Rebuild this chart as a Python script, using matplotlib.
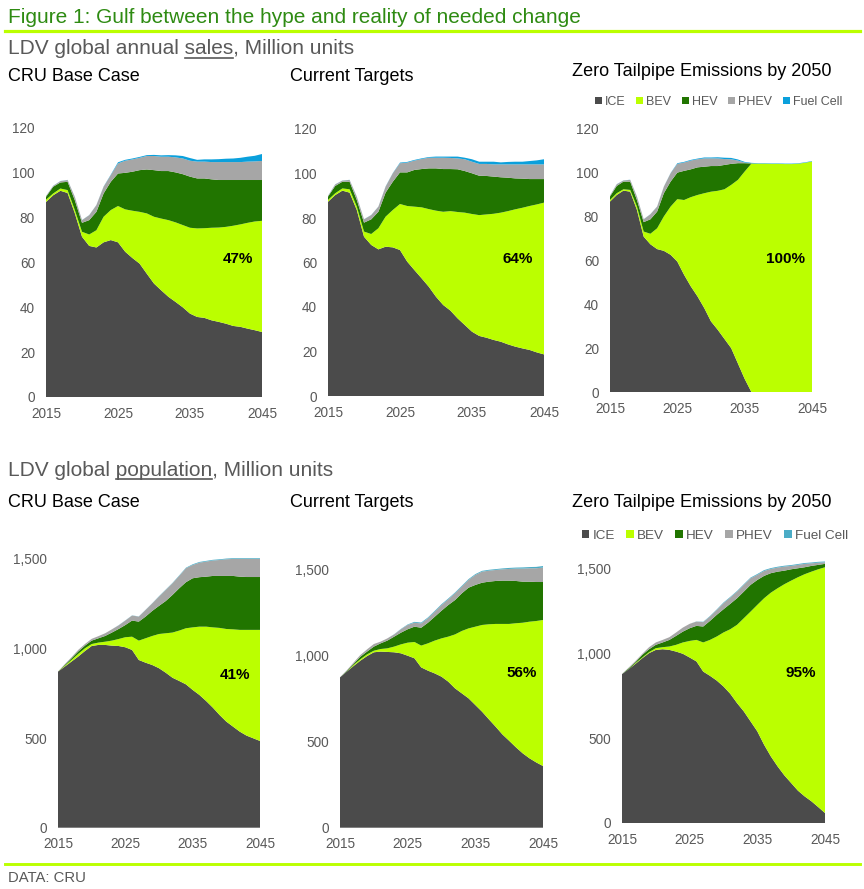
import matplotlib
matplotlib.use("Agg")
import matplotlib.pyplot as plt
from matplotlib.lines import Line2D
from matplotlib.patches import Patch
from matplotlib.ticker import FuncFormatter

plt.rcParams['font.family'] = ['Liberation Sans', 'DejaVu Sans']

W, H = 864, 889
years = list(range(2015, 2046))
series_names = ["ICE", "BEV", "HEV", "PHEV", "Fuel Cell"]

# ---- Annual sales, million units ----
sb_ice = [87,90,92,91,82,71.5,67.4,66.7,69,70,69,64.8,62,59.5,55,50.6,47.6,44.7,42.4,40,37.2,35.7,35.3,34.2,33.5,32.7,31.7,31.3,30.5,29.8,29]
sb_bev = [1,0.8,1,1.3,1.4,2.2,5.1,7.7,11.4,13.4,16.2,18.9,21.1,23.1,26.9,29.8,32,34.2,35.5,36.7,38.3,39.5,40,41.3,42.1,43.2,44.7,45.7,47.2,48.5,49.6]
sb_hev = [1.3,3,2.7,3.7,4.4,4,6.4,8.2,10.4,12.6,14.5,16.3,17.4,18.6,19.6,20.8,21.2,21.9,22.3,22.7,22.8,22.3,22.2,21.6,21.2,20.9,20.4,19.8,19.1,18.5,18.2]
sb_phev = [0.3,0.4,0.6,0.8,1.5,1.2,2.2,3,3,3,4.5,5.4,5.5,5.5,6,6.3,6.4,6.4,6.7,7,7.1,7.5,7.5,7.7,8,8,8,8,8.2,8.3,8.5]
sb_fc = [0.05,0.05,0.05,0.05,0.05,0.05,0.05,0.05,0.1,0.2,0.5,0.4,0.4,0.4,0.4,0.5,0.6,0.7,0.9,1.1,1.2,0.8,1,1.2,1.3,1.5,1.6,1.9,2.2,2.5,3.1]

sc_ice = [87.3,90.3,92.3,91.4,83.6,71.6,67.9,65.9,67.1,66.8,65.6,60.4,56.6,52.9,49.1,44.6,40.9,38.4,34.9,31.9,28.9,27,26.2,25.2,24.4,23.2,22.2,21.4,20.7,19.6,18.7]
sc_bev = [0.8,0.8,1.0,1.5,1.5,2.3,4.9,9.5,13.5,16.8,20.7,25,28.5,31.9,34.9,38.7,41.9,44.7,47.8,50.5,52.9,54.3,55.4,56.7,58,59.9,61.7,63.2,64.7,66.5,68.2]
sc_hev = [1.5,3.3,3.0,3.4,3.0,4.0,6.6,7.4,10.8,12.7,14.2,15.1,16.5,17.2,18.3,19,19.2,18.9,19.2,18.7,18.3,17.7,17.3,16.7,15.9,15,13.9,13.1,12.1,11.4,10.6]
sc_phev = [0.3,0.7,0.5,0.8,1.5,1.5,1.9,2.3,2.7,3.8,4.1,4.4,4.2,4.5,4.8,4.8,5.1,5,4.9,5.3,5.2,5.3,5.4,5.5,5.8,6,6.3,6.4,6.6,6.6,6.6]
sc_fc = [0.05,0.05,0.05,0.05,0.05,0.05,0.05,0.05,0.1,0.1,0.3,0.3,0.3,0.3,0.3,0.5,0.5,0.6,0.8,0.7,1.1,1,1,1.2,0.9,1.1,1.2,1.2,1.5,1.8,2.3]

sz_ice = [86.9,89.9,91.9,91.4,83.1,70.9,67.4,65.2,64.4,62.6,59.5,53.5,48.2,43.6,38.3,32.2,28.4,24.2,20,13,6,0,0,0,0,0,0,0,0,0,0]
sz_bev = [0.7,0.8,0.6,0.8,1.5,2.3,4.8,9.5,15.7,22,28.5,34.1,40.7,46.3,52.4,59.2,63.4,68.3,74.5,83.8,94.6,104.2,104.2,104.2,104.1,104.1,104,104,104.2,104.6,105.2]
sz_hev = [1.6,3.3,3.5,3.8,3,4.3,6.6,7.6,10.6,11.4,12.1,13.3,12.7,12.6,12.1,11.7,11.3,11.1,9.6,7.6,3.8,0.1,0,0,0,0,0,0,0,0,0]
sz_phev = [0.4,0.8,0.5,0.8,1.6,1.3,2.3,2.3,3,3.8,4,3.8,4,3.7,3.8,3.5,3.5,2.7,2.1,1.2,0.3,0.05,0,0,0,0,0,0,0,0,0]
sz_fc = [0.05,0.05,0.05,0.05,0.05,0.05,0.05,0.05,0.05,0.1,0.3,0.3,0.3,0.3,0.4,0.4,0.5,0.6,0.6,0.5,0.3,0.2,0.2,0.2,0.2,0.2,0.2,0.2,0.2,0.2,0.2]

# ---- Vehicle population, million units ----
pb_ice = [871,899,927,955,986,1014,1020,1020,1016,1014,1007,992,936,921,908,890,865,837,819,800,769,741,707,670,629,592,564,536,514,499,484]
pb_bev = [0,4,9,15,15,11,13,18,28,39,56,74,108,136,162,191,220,252,281,313,349,381,415,448,486,517,543,568,590,605,620]
pb_hev = [0,5,9,13,15,19,24,32,45,56,68,90,106,121,140,157,180,210,236,257,274,276,279,287,290,296,298,297,295,295,295]
pb_phev = [0,4,6,9,9,10,12,15,18,20,25,28,28,37,42,52,62,65,69,78,74,81,84,86,89,93,95,99,101,101,101]
pb_fc = [0,0,0,0,0,0,0,0,0,1,1,1,1,1,1,2,2,2,3,3,4,4,4,4,4,4,4,4,4,4,4]

pc_ice = [875,908,941,972,999,1021,1025,1023,1021,1015,1001,986,933,914,898,879,850,811,782,753,714,675,631,588,543,506,468,433,404,380,359]
pc_bev = [0,0,6,8,10,9,15,21,33,52,76,95,127,159,191,223,262,314,363,407,456,505,553,598,643,680,722,760,795,823,850]
pc_hev = [0,4,6,15,16,24,33,45,58,68,78,89,104,120,139,161,184,200,219,237,243,246,248,250,252,252,246,239,233,227,221]
pc_phev = [0,4,8,10,13,15,10,13,13,20,25,23,25,26,29,33,33,39,39,45,58,64,64,64,66,68,72,76,78,80,84]
pc_fc = [0,0,0,0,0,0,0,0,1,2,3,5,5,5,5,5,5,5,5,5,5,5,5,5,5,6,6,7,7,8,9]

pz_ice = [879,908,940,973,1003,1022,1026,1022,1012,999,977,954,894,869,841,806,763,708,659,600,541,462,393,334,281,236,191,157,128,94,59]
pz_bev = [0,0,4,4,6,10,12,20,40,67,98,127,172,212,260,319,381,462,550,648,747,865,967,1052,1129,1195,1260,1312,1356,1404,1451]
pz_hev = [0,6,6,16,17,20,28,39,53,64,75,83,94,112,128,137,150,157,157,158,147,132,115,98,80,67,53,41,34,26,20]
pz_phev = [0,4,7,6,12,14,15,16,20,24,26,25,26,26,29,36,37,39,40,39,30,29,25,24,24,20,20,20,15,13,9]
pz_fc = [0,0,0,0,0,0,0,0,0,0,0,1,2,3,3,4,4,4,4,4,5,5,5,5,5,5,5,5,5,5,5]

panel_titles = ["CRU Base Case", "Current Targets", "Zero Tailpipe Emissions by 2050"]
sales_labels = ["47%", "64%", "100%"]
pop_labels = ["41%", "56%", "95%"]
x_ticks = [2015, 2025, 2035, 2045]
sales_yticks = [0, 20, 40, 60, 80, 100, 120]
pop_yticks = [0, 500, 1000, 1500]

C_ICE, C_BEV, C_HEV, C_PHEV = '#4B4B4B', '#BBFF00', '#217500', '#A6A6A6'
C_FC_TOP, C_FC_BOT = '#0AA0DC', '#4BACC6'
GRAY = '#595959'
GREEN_T = '#2E8B12'
LIME = '#BBFF00'

fig = plt.figure(figsize=(W / 100, H / 100), dpi=100)


def px_axes(l, t, r, b):
    return fig.add_axes([l / W, 1 - b / H, (r - l) / W, (b - t) / H])


def style(ax, ylim, yticks, fmt=None):
    ax.set_xlim(2015, 2045)
    ax.set_ylim(*ylim)
    ax.set_xticks(x_ticks)
    ax.set_yticks(yticks)
    for s in ax.spines.values():
        s.set_visible(False)
    ax.tick_params(axis='both', length=0, labelsize=9.8, labelcolor=GRAY)
    ax.tick_params(axis='x', pad=7)
    ax.tick_params(axis='y', pad=8)
    if fmt:
        ax.yaxis.set_major_formatter(FuncFormatter(fmt))
    ax.patch.set_alpha(0)


sales_data = [
    (sb_ice, sb_bev, sb_hev, sb_phev, sb_fc),
    (sc_ice, sc_bev, sc_hev, sc_phev, sc_fc),
    (sz_ice, sz_bev, sz_hev, sz_phev, sz_fc),
]
pop_data = [
    (pb_ice, pb_bev, pb_hev, pb_phev, pb_fc),
    (pc_ice, pc_bev, pc_hev, pc_phev, pc_fc),
    (pz_ice, pz_bev, pz_hev, pz_phev, pz_fc),
]

top_boxes = [(46, 128, 262, 397), (328, 129, 544, 396), (610, 129, 812, 392)]
bot_boxes = [(58, 541, 260, 827.7), (340, 552.8, 543, 827.7), (622, 552, 825, 823)]
sales_lbl_pos = [(2041.7, 61.6), (2041.4, 61.6), (2041.0, 60.7)]
pop_lbl_pos = [(2041.3, 852), (2041.9, 900), (2041.4, 885)]

for i in range(3):
    ax = px_axes(*top_boxes[i])
    ax.stackplot(years, *sales_data[i],
                 colors=[C_ICE, C_BEV, C_HEV, C_PHEV, C_FC_TOP], linewidth=0)
    style(ax, (0, 120), sales_yticks)
    ax.text(*sales_lbl_pos[i], sales_labels[i], ha='center', va='center',
            fontsize=11, fontweight='bold', color='black')

    ax = px_axes(*bot_boxes[i])
    ax.stackplot(years, *pop_data[i],
                 colors=[C_ICE, C_BEV, C_HEV, C_PHEV, C_FC_BOT], linewidth=0)
    style(ax, (0, 1600), pop_yticks, fmt=lambda v, p: f"{int(v):,}")
    ax.text(*pop_lbl_pos[i], pop_labels[i], ha='center', va='center',
            fontsize=11, fontweight='bold', color='black')


def ftext(x, y, s, **kw):
    return fig.text(x / W, 1 - y / H, s, va='baseline', ha='left', **kw)


renderer = fig.canvas.get_renderer()


def width_px(s, **kw):
    t = fig.text(0, 0, s, **kw)
    w = t.get_window_extent(renderer).width
    t.remove()
    return w


def underlined(x, y, pre, word, post, uy, **kw):
    ftext(x, y, pre + word + post, **kw)
    x1 = x + width_px(pre + word, **kw)
    x0 = x1 - width_px(word, **kw)
    fig.add_artist(Line2D([x0 / W, x1 / W], [1 - uy / H, 1 - uy / H],
                          transform=fig.transFigure, color=kw.get('color', 'k'), lw=1.2))


# Header
ftext(8, 23, "Figure 1: Gulf between the hype and reality of needed change",
      fontsize=15, color=GREEN_T)
fig.add_artist(Line2D([5 / W, 860 / W], [1 - 30.5 / H, 1 - 30.5 / H],
                      transform=fig.transFigure, color=LIME, lw=2.3))

underlined(8, 54.5, "LDV global annual ", "sales", ", Million units", 57.8,
           fontsize=15, color=GRAY)
underlined(8, 476, "LDV global ", "population", ", Million units", 479.3,
           fontsize=15, color=GRAY)

title_x = [8, 290, 572]
top_title_y = [80.7, 80.7, 75.5]
for i in range(3):
    ftext(title_x[i], top_title_y[i], panel_titles[i], fontsize=13, color='black')
    ftext(title_x[i], 507.3, panel_titles[i], fontsize=13, color='black')

# Legends
def make_legend(cx, cy, fc_color, fs):
    handles = [Patch(facecolor=c, edgecolor='none') for c in
               [C_ICE, C_BEV, C_HEV, C_PHEV, fc_color]]
    fig.legend(handles, series_names, loc='center', bbox_to_anchor=(cx / W, 1 - cy / H),
               ncol=5, frameon=False, fontsize=fs, handlelength=0.55, handleheight=0.55,
               handletextpad=0.25, columnspacing=0.85, labelcolor=GRAY, borderpad=0,
               borderaxespad=0)

make_legend(718.5, 102, C_FC_TOP, 9.0)
make_legend(715, 536, C_FC_BOT, 9.7)

# Footer
fig.add_artist(Line2D([5 / W, 860 / W], [1 - 864 / H, 1 - 864 / H],
                      transform=fig.transFigure, color=LIME, lw=2.1))
ftext(8, 882, "DATA: CRU", fontsize=10.7, color=GRAY)

fig.savefig("out.png", dpi=100)
